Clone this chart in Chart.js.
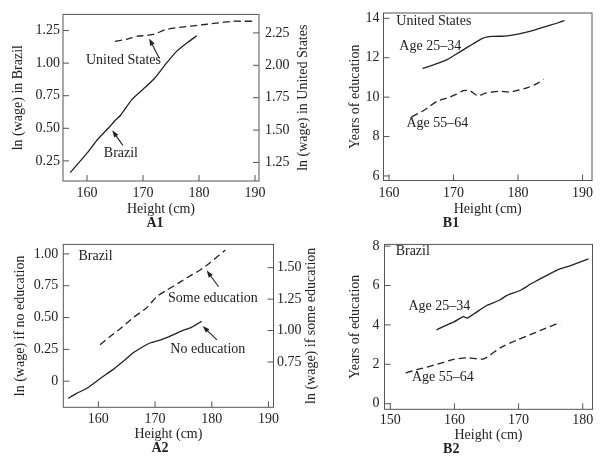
<!DOCTYPE html>
<html>
<head>
<meta charset="utf-8">
<script src="https://cdn.jsdelivr.net/npm/chart.js@4.4.1/dist/chart.umd.min.js"></script>
<style>
  body { margin: 0; background: #fff; width: 602px; height: 462px; overflow: hidden; }
  .panel { position: absolute; }
</style>
</head>
<body>
<div class="panel" style="left:0;top:0"><canvas id="a1" width="310" height="231"></canvas></div>
<div class="panel" style="left:310px;top:0"><canvas id="b1" width="292" height="231"></canvas></div>
<div class="panel" style="left:0;top:231px"><canvas id="a2" width="320" height="231"></canvas></div>
<div class="panel" style="left:310px;top:231px"><canvas id="b2" width="292" height="231"></canvas></div>
<script>
// A1 - ln(wage) by height, Brazil (left axis) and United States (right axis)
const a1BrazilHeight = [157, 158, 160, 162, 164, 165, 166, 168, 170, 172, 174, 176, 178, 179.6];
const a1BrazilWage = [0.16, 0.21, 0.31, 0.42, 0.51, 0.56, 0.60, 0.72, 0.80, 0.88, 0.99, 1.09, 1.16, 1.21];
const a1UsHeight = [165, 167, 169, 170.5, 172, 174, 176, 178, 180, 182, 184, 186, 188, 189.5];
const a1UsWage = [2.185, 2.20, 2.225, 2.23, 2.24, 2.275, 2.29, 2.30, 2.31, 2.32, 2.33, 2.34, 2.34, 2.34];
const a1HeightTicks = [160, 170, 180, 190];
const a1LeftTicks = [0.25, 0.50, 0.75, 1.00, 1.25];
const a1RightTicks = [1.25, 1.50, 1.75, 2.00, 2.25];

// B1 - years of education by height, United States
const b1YoungHeight = [165.2, 167, 169, 171, 173, 174.6, 176, 178, 180, 182, 184, 186, 187.2];
const b1YoungYears = [11.45, 11.65, 11.9, 12.3, 12.7, 13.0, 13.08, 13.1, 13.2, 13.35, 13.55, 13.75, 13.88];
const b1OldHeight = [163.5, 165.5, 167.5, 169, 170.5, 171.5, 172.5, 173.8, 175, 177, 178.7, 180, 181.5, 183, 184];
const b1OldYears = [9.0, 9.35, 9.8, 9.95, 10.15, 10.33, 10.33, 10.07, 10.2, 10.3, 10.25, 10.35, 10.48, 10.7, 10.9];
const b1HeightTicks = [160, 170, 180, 190];
const b1YearTicks = [6, 8, 10, 12, 14];

// A2 - ln(wage) by height in Brazil, no education (left) vs some education (right)
const a2NoEdHeight = [154.7, 156, 158, 160.3, 162.7, 164.5, 166.2, 168, 169.1, 171, 172.5, 174.4, 176.5, 178.2];
const a2NoEdWage = [-0.135, -0.10, -0.055, 0.02, 0.095, 0.16, 0.225, 0.275, 0.30, 0.325, 0.35, 0.39, 0.425, 0.47];
const a2SomeEdHeight = [160.3, 162, 164, 166.2, 168.5, 170.3, 172, 174.4, 176, 177.9, 179.7, 182.4];
const a2SomeEdWage = [0.887, 0.95, 1.02, 1.105, 1.18, 1.27, 1.32, 1.385, 1.43, 1.48, 1.54, 1.64];
const a2HeightTicks = [160, 170, 180, 190];
const a2LeftTicks = [0, 0.25, 0.50, 0.75, 1.00];
const a2RightTicks = [0.75, 1.00, 1.25, 1.50];

// B2 - years of education by height, Brazil
const b2YoungHeight = [157.2, 158.5, 160, 161.4, 162, 163, 165.1, 167, 168.2, 170.3, 172, 173, 176, 178, 180.9];
const b2YoungYears = [3.75, 3.95, 4.17, 4.42, 4.35, 4.55, 5.0, 5.25, 5.5, 5.76, 6.1, 6.27, 6.78, 7.0, 7.35];
const b2OldHeight = [152.4, 154.4, 157.3, 159.9, 162, 164.6, 167.2, 169.8, 172.3, 174, 176.5];
const b2OldYears = [1.57, 1.75, 2.0, 2.25, 2.33, 2.28, 2.85, 3.24, 3.57, 3.8, 4.13];
const b2HeightTicks = [150, 160, 170, 180];
const b2YearTicks = [0, 2, 4, 6, 8];

const INK = '#222';
const FRAME = '#555';
const FONT = "'Liberation Serif', 'DejaVu Serif', serif";

function pts(xs, ys) {
  return xs.map((x, i) => ({x: x, y: ys[i]}));
}
function two(v) { return v === 0 ? '0' : v.toFixed(2); }
function whole(v) { return String(v); }

// box round the plot, inward tick marks, in-plot labels and arrows
const framePlugin = {
  id: 'frame',
  afterDraw(chart, args, opts) {
    const ctx = chart.ctx;
    const a = chart.chartArea;
    const scales = chart.scales;
    ctx.save();
    ctx.strokeStyle = FRAME;
    ctx.lineWidth = 1;
    ctx.strokeRect(a.left, a.top, a.right - a.left, a.bottom - a.top);
    ctx.beginPath();
    Object.values(scales).forEach(s => {
      s.ticks.forEach(t => {
        const p = s.getPixelForValue(t.value);
        if (s.axis === 'x') {
          ctx.moveTo(p, a.bottom); ctx.lineTo(p, a.bottom - 6);
        } else if (s.position === 'left') {
          ctx.moveTo(a.left, p); ctx.lineTo(a.left + 6, p);
        } else {
          ctx.moveTo(a.right, p); ctx.lineTo(a.right - 6, p);
        }
      });
    });
    ctx.stroke();

    ctx.fillStyle = INK;
    ctx.strokeStyle = INK;
    ctx.font = '14px ' + FONT;
    ctx.textAlign = 'center';
    ctx.textBaseline = 'middle';
    (opts.notes || []).forEach(n => {
      const ys = scales[n.axis || 'y'];
      ctx.fillText(n.text, scales.x.getPixelForValue(n.x), ys.getPixelForValue(n.y));
    });
    (opts.arrows || []).forEach(r => {
      const ys = scales.y;
      const x0 = scales.x.getPixelForValue(r.from[0]), y0 = ys.getPixelForValue(r.from[1]);
      const x1 = scales.x.getPixelForValue(r.to[0]), y1 = ys.getPixelForValue(r.to[1]);
      const ang = Math.atan2(y1 - y0, x1 - x0);
      ctx.lineWidth = 1.1;
      ctx.beginPath();
      ctx.moveTo(x0, y0);
      ctx.lineTo(x1 - 4 * Math.cos(ang), y1 - 4 * Math.sin(ang));
      ctx.stroke();
      ctx.beginPath();
      ctx.moveTo(x1, y1);
      ctx.lineTo(x1 - 7 * Math.cos(ang) + 2.5 * Math.sin(ang), y1 - 7 * Math.sin(ang) - 2.5 * Math.cos(ang));
      ctx.lineTo(x1 - 7 * Math.cos(ang) - 2.5 * Math.sin(ang), y1 - 7 * Math.sin(ang) + 2.5 * Math.cos(ang));
      ctx.closePath();
      ctx.fill();
    });
    if (opts.rightTitle && scales.y2) {
      ctx.translate(scales.y2.right - opts.rightInset, (a.top + a.bottom) / 2);
      ctx.rotate(-Math.PI / 2);
      ctx.fillText(opts.rightTitle, 0, 0);
    }
    ctx.restore();
  }
};

function xAxis(min, max, ticks, height, pad) {
  return {
    type: 'linear', position: 'bottom', min: min, max: max,
    grid: {display: false, drawTicks: false, tickLength: 0},
    border: {display: false},
    ticks: {font: {family: FONT, size: 14}, color: INK, padding: pad, maxRotation: 0, minRotation: 0, autoSkip: false, callback: v => whole(v)},
    afterBuildTicks: s => { s.ticks = ticks.map(v => ({value: v})); },
    afterFit: s => { s.height = height; },
    title: {display: true, text: 'Height (cm)', color: INK, font: {family: FONT, size: 14, lineHeight: 1}, padding: {top: 0, bottom: 0}}
  };
}

function yAxis(position, min, max, ticks, fmt, width, pad, title, titlePad) {
  return {
    type: 'linear', position: position, min: min, max: max,
    grid: {display: false, drawTicks: false, tickLength: 0},
    border: {display: false},
    ticks: {font: {family: FONT, size: 14}, color: INK, padding: pad, callback: v => fmt(v)},
    afterBuildTicks: s => { s.ticks = ticks.map(v => ({value: v})); },
    afterFit: s => { s.width = width; },
    title: title
      ? {display: true, text: title, color: INK, font: {family: FONT, size: 14, lineHeight: 1}, padding: {top: titlePad, bottom: 0}}
      : {display: false}
  };
}

function line(xs, ys, dashed, axis) {
  return {
    data: pts(xs, ys),
    yAxisID: axis || 'y',
    borderColor: INK,
    borderWidth: 1.3,
    borderDash: dashed ? [7, 4] : [],
    pointRadius: 0,
    tension: 0.2,
    fill: false
  };
}

function panel(id, datasets, scales, padding, letter, frame) {
  return new Chart(document.getElementById(id), {
    type: 'line',
    data: {datasets: datasets},
    options: {
      responsive: false,
      animation: false,
      layout: {padding: padding},
      scales: scales,
      plugins: {
        legend: {display: false},
        tooltip: {enabled: false},
        title: {display: true, position: 'bottom', text: letter, color: INK, padding: 0,
                font: {family: FONT, size: 14, weight: 'bold', lineHeight: 1}},
        frame: frame
      }
    },
    plugins: [framePlugin]
  });
}

panel('a1',
  [line(a1BrazilHeight, a1BrazilWage, false), line(a1UsHeight, a1UsWage, true, 'y2')],
  {
    x: xAxis(155.71, 190.71, a1HeightTicks, 35, 4),
    y: yAxis('left', 0.0955, 1.374, a1LeftTicks, two, 63, 3, 'ln (wage) in Brazil', 11),
    y2: yAxis('right', 1.107, 2.393, a1RightTicks, two, 51, 6, null, 0)
  },
  {top: 13, left: 0, right: 0, bottom: 1}, 'A1',
  {
    notes: [
      {text: 'United States', x: 166.5, y: 1.022},
      {text: 'Brazil', x: 166.05, y: 0.306}
    ],
    arrows: [
      {from: [172.9, 1.037], to: [171.1, 1.189]},
      {from: [166.4, 0.369], to: [164.5, 0.484]}
    ],
    rightTitle: 'ln (wage) in United States', rightInset: 7
  });

panel('b1',
  [line(b1YoungHeight, b1YoungYears, false), line(b1OldHeight, b1OldYears, true)],
  {
    x: xAxis(159.15, 191.47, b1HeightTicks, 35.8, 4.5),
    y: yAxis('left', 5.77, 14.27, b1YearTicks, whole, 73.5, 4, 'Years of education', 38)
  },
  {top: 13, left: 0, right: 10, bottom: 0.7}, 'B1',
  {
    notes: [
      {text: 'United States', x: 166.95, y: 13.83},
      {text: 'Age 25–34', x: 166.4, y: 12.57},
      {text: 'Age 55–64', x: 167.5, y: 8.66}
    ]
  });

panel('a2',
  [line(a2NoEdHeight, a2NoEdWage, false), line(a2SomeEdHeight, a2SomeEdWage, true, 'y2')],
  {
    x: xAxis(153.82, 190.88, a2HeightTicks, 34.2, 4),
    y: yAxis('left', -0.205, 1.0745, a2LeftTicks, two, 63.3, 5, 'ln (wage) if no education', 13),
    y2: yAxis('right', 0.39, 1.685, a2RightTicks, two, 46.5, 3.5, null, 0)
  },
  {top: 8, left: 0, right: 0, bottom: 6.5}, 'A2',
  {
    notes: [
      {text: 'Brazil', x: 159.5, y: 0.978},
      {text: 'Some education', x: 180.2, y: 0.654},
      {text: 'No education', x: 179.3, y: 0.253}
    ],
    arrows: [
      {from: [181.2, 0.742], to: [179.1, 0.869]},
      {from: [180.9, 0.324], to: [178.4, 0.433]}
    ],
    rightTitle: 'ln (wage) if some education', rightInset: 8.3
  });

panel('b2',
  [line(b2YoungHeight, b2YoungYears, false), line(b2OldHeight, b2OldYears, true)],
  {
    x: xAxis(149.1, 181.52, b2HeightTicks, 32.7, 2.3),
    y: yAxis('left', -0.284, 8.087, b2YearTicks, whole, 74.5, 5, 'Years of education', 38)
  },
  {top: 13.3, left: 0, right: 9.5, bottom: 6}, 'B2',
  {
    notes: [
      {text: 'Brazil', x: 153.5, y: 7.72},
      {text: 'Age 25–34', x: 157.65, y: 4.96},
      {text: 'Age 55–64', x: 158.2, y: 1.32}
    ]
  });
</script>
</body>
</html>
